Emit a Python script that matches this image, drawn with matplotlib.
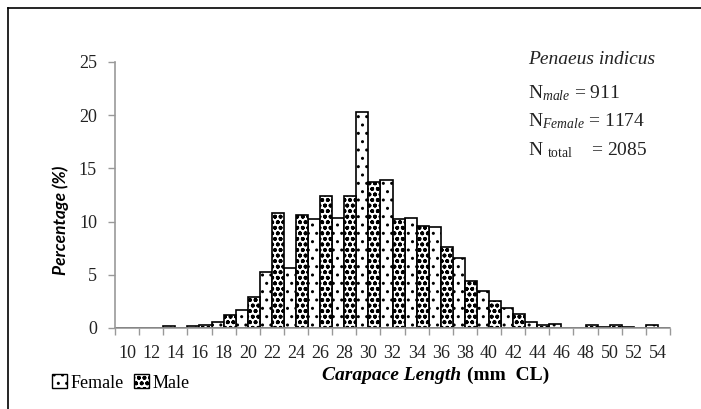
import matplotlib
matplotlib.use("Agg")
import matplotlib.pyplot as plt
import numpy as np
from matplotlib.patches import Patch
from matplotlib.lines import Line2D

categories = [10, 12, 14, 16, 18, 20, 22, 24, 26, 28, 30, 32, 34, 36, 38, 40, 42, 44, 46, 48, 50, 52, 54]
female = [0, 0, 0.15, 0.15, 0.6, 1.7, 5.25, 5.65, 10.2, 10.35, 20.3, 13.9, 10.3, 9.5, 6.6, 3.5, 1.85, 0.55, 0.42, 0, 0.1, 0.1, 0.28]
male = [0, 0, 0, 0.3, 1.25, 2.9, 10.85, 10.6, 12.4, 12.45, 13.7, 10.2, 9.6, 7.65, 4.45, 2.55, 1.3, 0.26, 0, 0.28, 0.28, 0, 0]
yticks = [0, 5, 10, 15, 20, 25]

plt.rcParams['font.family'] = ['Liberation Serif', 'DejaVu Serif']
plt.rcParams['mathtext.fontset'] = 'custom'
plt.rcParams['mathtext.rm'] = 'Liberation Serif'
plt.rcParams['mathtext.it'] = 'Liberation Serif:italic'

FEM_HATCH = '..'
MALE_HATCH = 'ooo'
FEM_HLW = 1.0
MALE_HLW = 1.2


def set_hlw(patch, lw):
    if hasattr(patch, 'set_hatch_linewidth'):
        patch.set_hatch_linewidth(lw)


fig = plt.figure(figsize=(7.01, 4.09), dpi=100)
ax = fig.add_axes([115/701, 1-328/409, (670-115)/701, (328-62)/409])

x = np.arange(len(categories))
w = 0.5
with plt.rc_context({'hatch.linewidth': FEM_HLW}):
    bf = ax.bar(x - w/2, female, width=w, facecolor='white', edgecolor='black', hatch=FEM_HATCH, linewidth=1.2, label='Female')
with plt.rc_context({'hatch.linewidth': MALE_HLW}):
    bm = ax.bar(x + w/2, male, width=w, facecolor='white', edgecolor='black', hatch=MALE_HATCH, linewidth=1.2, label='Male')
for p in bf:
    set_hlw(p, FEM_HLW)
for p in bm:
    set_hlw(p, MALE_HLW)

ax.set_xlim(-0.5, len(categories) - 0.5)
ax.set_ylim(0, 25)
ax.set_yticks(yticks)
ax.set_xticks(x)
ax.set_xticklabels([str(c) for c in categories])
ax.set_xticks(np.arange(len(categories) + 1) - 0.5, minor=True)
ax.tick_params(axis='x', which='major', length=0, labelsize=13, pad=12, colors='#222222')
ax.tick_params(axis='x', which='minor', length=5, width=1, color='#999999', direction='out')
ax.tick_params(axis='y', length=5, width=1, color='#999999', labelsize=13, pad=8, labelcolor='#222222')
for s in ['top', 'right']:
    ax.spines[s].set_visible(False)
for s in ['left', 'bottom']:
    ax.spines[s].set_color('#999999')
    ax.spines[s].set_linewidth(1.2)

# axis labels
fig.text(61/701, 1-220/409, 'Percentage (%)', rotation=90, ha='center', va='center',
         fontsize=12.5, fontweight='bold', fontstyle='italic', family='Lato')
t1 = fig.text(322/701, 1-375/409, 'Carapace Length', ha='left', va='center', fontsize=14,
              fontweight='bold', fontstyle='italic')
fig.canvas.draw()
bb = t1.get_window_extent(fig.canvas.get_renderer())
fig.text((bb.x1 + 6)/701, 1-375/409, '(mm  CL)', ha='left', va='center', fontsize=14, fontweight='bold')

# annotations
fig.text(528/701, 1-60/409, 'Penaeus indicus', ha='left', va='center', fontsize=14, fontstyle='italic', color='#222222')
fig.text(528/701, 1-93/409, r'N$_{male}$ = 911', ha='left', va='center', fontsize=14, color='#222222')
fig.text(528/701, 1-121/409, r'N$_{Female}$ = 1174', ha='left', va='center', fontsize=14, color='#222222')
fig.text(528/701, 1-150/409, r'N $_{\mathrm{total}}$    = 2085', ha='left', va='center', fontsize=14, color='#222222')

# legend
hf = Patch(facecolor='white', edgecolor='black', hatch=FEM_HATCH, label='Female')
hm = Patch(facecolor='white', edgecolor='black', hatch=MALE_HATCH, label='Male')
leg = fig.legend(handles=[hf, hm], loc='center left', bbox_to_anchor=(36/701, 1-383/409), ncol=2,
                 frameon=False, fontsize=13, handlelength=0.8, handleheight=0.8, handletextpad=0.2,
                 columnspacing=0.6)
for p, lw in zip(leg.get_patches(), [FEM_HLW, MALE_HLW]):
    set_hlw(p, lw)

# outer border
fig.add_artist(Line2D([8/701, 8/701], [0, 1-8/409], color='black', linewidth=1.2, transform=fig.transFigure))
fig.add_artist(Line2D([8/701, 1], [1-8/409, 1-8/409], color='black', linewidth=1.2, transform=fig.transFigure))

fig.savefig('out.png', dpi=100)
